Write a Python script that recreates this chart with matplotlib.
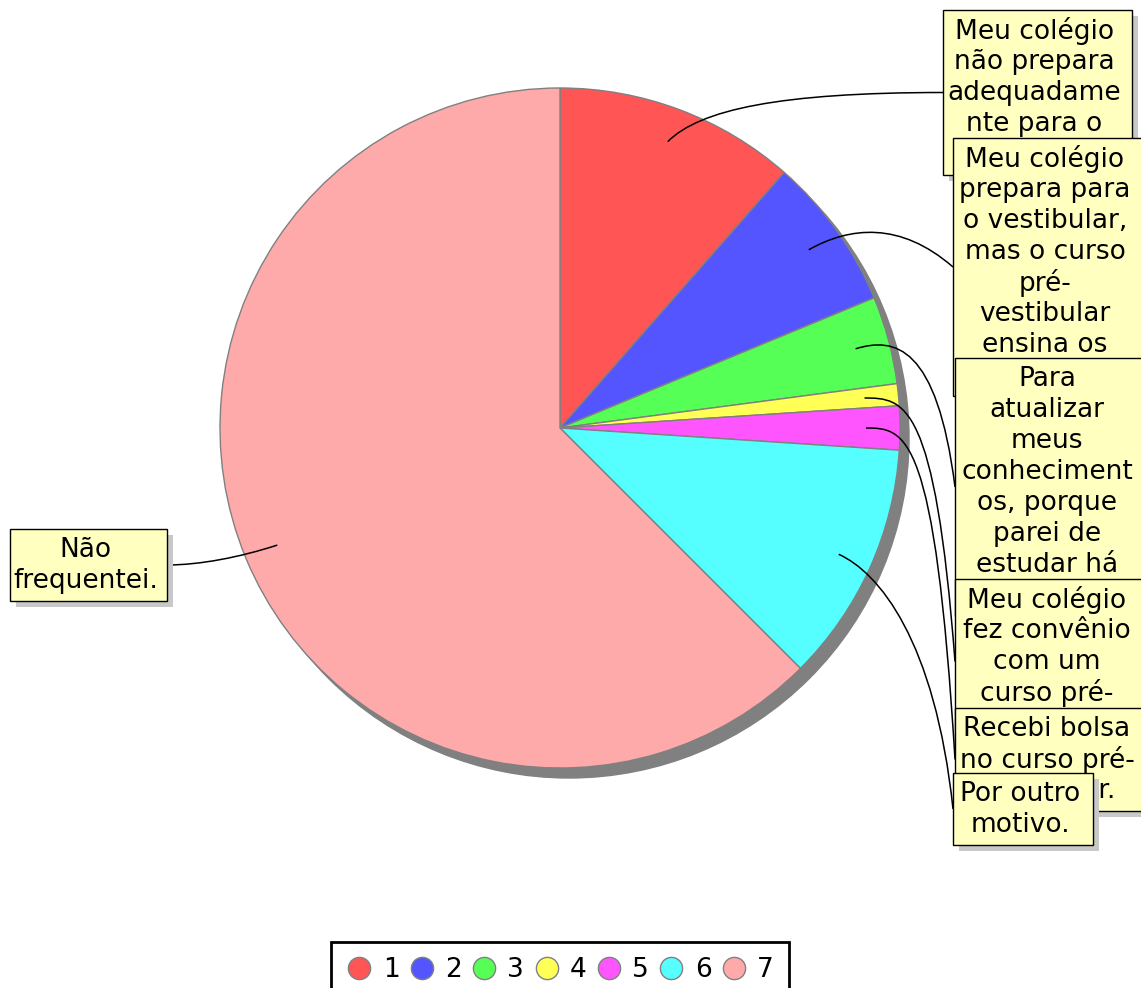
import matplotlib
matplotlib.use('Agg')
import numpy as np
import matplotlib.pyplot as plt
from matplotlib.patches import Rectangle, Circle, PathPatch
from matplotlib.path import Path
from matplotlib.lines import Line2D

W, H = 1141, 988

# data
categories = ['1', '2', '3', '4', '5', '6', '7']
values = [11, 7, 4, 1, 2, 11, 60]
colors = ['#FF5555', '#5555FF', '#55FF55', '#FFFF55', '#FF55FF', '#55FFFF', '#FFAAAA']
labels = [
    "Meu colégio\nnão prepara\nadequadame\nnte para o\nvestibular.",
    "Meu colégio\nprepara para\no vestibular,\nmas o curso\npré-\nvestibular\nensina os\nconteúdos",
    "Para\natualizar\nmeus\nconheciment\nos, porque\nparei de\nestudar há\nalgum tempo.",
    "Meu colégio\nfez convênio\ncom um\ncurso pré-\nvestibular.",
    "Recebi bolsa\nno curso pré-\nvestibular.",
    "Por outro\nmotivo.",
    "Não\nfrequentei.",
]

# label boxes: left, top, width (pixels)
boxes = [(943, 10, 189), (953, 138, 190), (955, 358, 190), (955, 579, 190),
         (955, 708, 190), (953, 773, 140), (10, 529, 157)]
# bezier control offsets for the leader lines
ctrl = [((32, -32), (-163, 0)), ((41, -23), (-53, -46)), ((39, -12), (-18, -142)),
        ((40, 0), (-20, -261)), ((40, 0), (-20, -328)), ((40, 18), (-18, -169)),
        ((-37, 12), (33, 0))]

cx, cy, R = 560, 428, 340
LINE = 31
FS = 19

fig = plt.figure(figsize=(W / 100, H / 100), dpi=100)
ax = fig.add_axes([0, 0, 1, 1])

# shadow of the pie
ax.add_patch(Circle((cx + 9, cy + 10), R, color='#808080', zorder=0))

wedges, _ = ax.pie(values, colors=colors, startangle=-90, counterclock=True,
                   center=(cx, cy), radius=R,
                   wedgeprops=dict(edgecolor='#808080', linewidth=1))
for w in wedges:
    w.set_zorder(1)

ax.set_xlim(0, W)
ax.set_ylim(H, 0)
ax.set_aspect('equal')
ax.axis('off')

for i, (w, lab, (bx, by, bw)) in enumerate(zip(wedges, labels, boxes)):
    lines = lab.split('\n')
    bh = len(lines) * LINE + 10
    z = 10 + 3 * i
    # leader line from inside the wedge to the box
    mid = np.deg2rad((w.theta1 + w.theta2) / 2)
    p0 = (cx + 0.9 * R * np.cos(mid), cy + 0.9 * R * np.sin(mid))
    p3 = (bx + bw, by + bh / 2) if bx < cx else (bx, by + bh / 2)
    o1, o2 = ctrl[i]
    p1 = (p0[0] + o1[0], p0[1] + o1[1])
    p2 = (p3[0] + o2[0], p3[1] + o2[1])
    path = Path([p0, p1, p2, p3], [Path.MOVETO, Path.CURVE4, Path.CURVE4, Path.CURVE4])
    ax.add_patch(PathPatch(path, fill=False, edgecolor='black', linewidth=1.1, zorder=5))
    # box with shadow
    ax.add_patch(Rectangle((bx + 6, by + 6), bw, bh, facecolor='#C8C8C8',
                           edgecolor='none', zorder=z))
    box = Rectangle((bx, by), bw, bh, facecolor='#FFFFC0',
                    edgecolor='black', linewidth=1, zorder=z + 1)
    ax.add_patch(box)
    # the next box hides the rest of this one when it spans its full width
    cover = H
    if i + 1 < len(boxes):
        nx, ny, nw = boxes[i + 1]
        if nx <= bx + 12 and nx + nw >= bx + bw - 12 and ny > by:
            cover = ny
    for k, ln in enumerate(lines):
        ty = by + 21 + k * LINE
        if ty > cover:
            break
        t = ax.text(bx + bw / 2 - 3, ty, ln, ha='center', va='center',
                    fontsize=FS, zorder=z + 2)
        t.set_clip_path(box)

handles = [Line2D([], [], marker='o', linestyle='', markersize=16,
                  markerfacecolor=c, markeredgecolor='#808080') for c in colors]
leg = fig.legend(handles, categories, loc='upper center', ncol=7,
                 bbox_to_anchor=(560 / W, 1 - 942 / H), fontsize=FS,
                 frameon=True, fancybox=False, handlelength=1.0,
                 handletextpad=0.38, columnspacing=0.35, borderpad=0.58,
                 borderaxespad=0)
leg.get_frame().set_edgecolor('black')
leg.get_frame().set_linewidth(2)
leg.get_frame().set_alpha(1)

fig.savefig('out.png', dpi=100)
